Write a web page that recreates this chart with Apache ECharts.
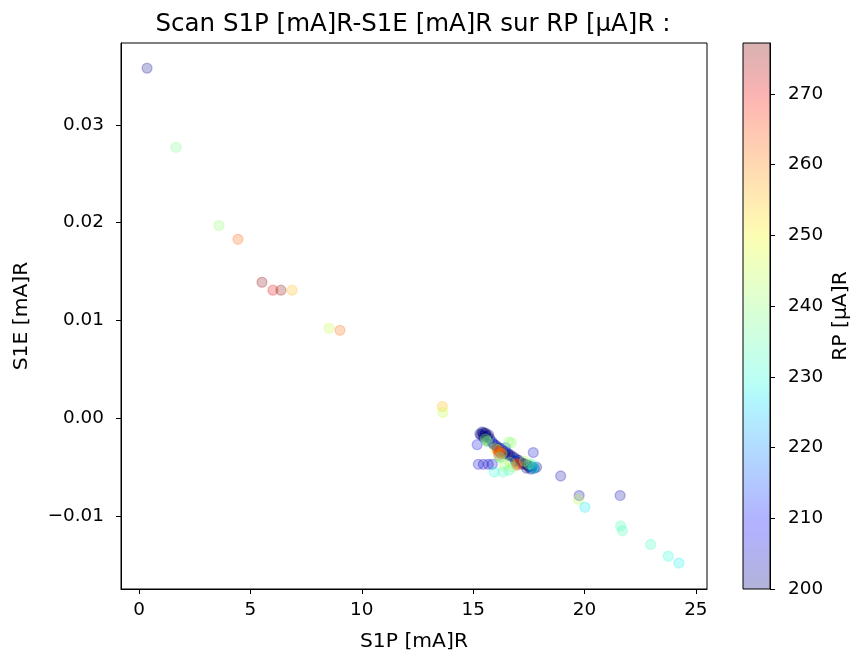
<!DOCTYPE html>
<html>
<head>
<meta charset="utf-8">
<script src="https://cdn.jsdelivr.net/npm/echarts@6/dist/echarts.min.js"></script>
<style>
html,body{margin:0;padding:0;background:#fff;}
#chart{width:852px;height:655px;}
</style>
</head>
<body>
<div id="chart"></div>
<script>
// ---- data ----
var S1P = [
  // navy cluster points
  15.35,15.45,15.55,15.65,15.50,15.75,15.40,15.60,15.30,15.70,15.62,15.85,15.95,16.05,16.15,16.25,16.35,16.45,16.55,16.65,16.75,16.85,16.95,17.05,17.15,17.25,17.35,17.45,17.55,17.65,17.75,17.85,17.40,17.60,16.40,16.90,15.45,15.55,16.10,16.60,17.20,17.50,
  // other cluster points
  15.18,15.23,15.46,15.68,15.86,16.45,16.90,15.90,
  15.55,15.60,15.65,16.60,16.72,16.10,
  16.00,16.30,16.20,
  16.10,16.15,16.20,16.25,16.95,17.00,16.15,16.98,
  17.72,17.70,17.60,16.20,
  15.95,16.35,16.60,
  16.65,16.40,17.30,17.50,16.80,
  17.70,
  // isolated points
  0.36,1.66,3.59,4.44,5.52,6.01,6.37,6.87,8.53,9.02,13.62,13.64,
  18.93,19.76,19.73,20.02,21.60,21.62,21.70,22.97,23.76,24.24
];
var S1E = [
  -0.0017,-0.0015,-0.0016,-0.0018,-0.0020,-0.0021,-0.0014,-0.0019,-0.0016,-0.0017,-0.0023,-0.0024,-0.0027,-0.0028,-0.0030,-0.0031,-0.0033,-0.0034,-0.0036,-0.0037,-0.0039,-0.0040,-0.0042,-0.0043,-0.0045,-0.0046,-0.0047,-0.0048,-0.0049,-0.0050,-0.0051,-0.0050,-0.0051,-0.0052,-0.0036,-0.0044,-0.0018,-0.0015,-0.0031,-0.0038,-0.0047,-0.0050,
  -0.0027,-0.0047,-0.0047,-0.0047,-0.0047,-0.0030,-0.0043,-0.0026,
  -0.0021,-0.0023,-0.0024,-0.0024,-0.0025,-0.0032,
  -0.0031,-0.0036,-0.0040,
  -0.0033,-0.0035,-0.0034,-0.0036,-0.0047,-0.0046,-0.0038,-0.0048,
  -0.0050,-0.0051,-0.0047,-0.0040,
  -0.0055,-0.0055,-0.0053,
  -0.0045,-0.0048,-0.0044,-0.0047,-0.0050,
  -0.0035,
  0.0358,0.0277,0.0197,0.0183,0.0139,0.0131,0.0131,0.0131,0.0092,0.0090,0.0012,0.0006,
  -0.0059,-0.0079,-0.0083,-0.0091,-0.0079,-0.0110,-0.0115,-0.0129,-0.0141,-0.0148
];
var RP = [
  200,200,200,200,200,200,200,200,200,200,200,200,200,200,200,200,200,200,200,200,200,200,200,200,200,200,200,200,200,200,200,200,200,200,200,200,200,200,200,200,200,200,
  207,205,205,205,205,215,215,212,
  240,238,240,240,240,240,
  250,250,248,
  265,264,266,262,265,266,262,264,
  228,226,228,228,
  230,233,233,
  242,242,242,242,240,
  205,
  201,238,240,263,277,271,276,255,245,262,255,245,
  203,203,244,227,203,233,233,232,230,228
];
var xTicks = [0, 5, 10, 15, 20, 25];
var yTicks = [-0.01, 0.00, 0.01, 0.02, 0.03];
var cTicks = [200, 210, 220, 230, 240, 250, 260, 270];
var cMin = 200, cMax = 277.2;

// ---- jet colormap ----
function interp(segs, t) {
  for (var i = 0; i < segs.length - 1; i++) {
    var a = segs[i], b = segs[i + 1];
    if (t >= a[0] && t <= b[0]) {
      return a[1] + (b[1] - a[1]) * (t - a[0]) / (b[0] - a[0]);
    }
  }
  return segs[segs.length - 1][1];
}
var JR = [[0,0],[0.35,0],[0.66,1],[0.89,1],[1,0.5]];
var JG = [[0,0],[0.125,0],[0.375,1],[0.64,1],[0.91,0],[1,0]];
var JB = [[0,0.5],[0.11,1],[0.34,1],[0.65,0],[1,0]];
function jet(t, a) {
  t = Math.max(0, Math.min(1, t));
  var r = Math.round(255 * interp(JR, t));
  var g = Math.round(255 * interp(JG, t));
  var b = Math.round(255 * interp(JB, t));
  return 'rgba(' + r + ',' + g + ',' + b + ',' + a + ')';
}
function colorOf(v) { return jet((v - cMin) / (cMax - cMin), 0.3); }

var pts = S1P.map(function (x, i) {
  var c = colorOf(RP[i]);
  return { value: [x, S1E[i], RP[i]], itemStyle: { color: c, borderColor: c, borderWidth: 1.3 } };
});

var stops = [];
for (var k = 0; k <= 40; k++) {
  stops.push({ offset: k / 40, color: jet(k / 40, 0.3) });
}

var FONT = 'DejaVu Sans';
var TICK = 18.4, LAB = 20.3;
var chart = echarts.init(document.getElementById('chart'), null, { renderer: 'canvas' });
chart.setOption({
  backgroundColor: '#fff',
  animation: false,
  title: {
    text: 'Scan S1P [mA]R-S1E [mA]R sur RP [µA]R :',
    left: 408, top: 7, textAlign: 'center',
    textStyle: { fontFamily: FONT, fontSize: 24.5, fontWeight: 'normal', color: '#000' }
  },
  grid: [
    { left: 121, right: 145, top: 43, bottom: 66, containLabel: false, outerBoundsMode: 'none',
      show: true, borderColor: '#000', borderWidth: 1, backgroundColor: 'transparent' },
    { left: 743, width: 27, top: 43, bottom: 66, containLabel: false, outerBoundsMode: 'none',
      show: true, borderColor: '#000', borderWidth: 1,
      backgroundColor: new echarts.graphic.LinearGradient(0, 1, 0, 0, stops) }
  ],
  xAxis: [
    {
      type: 'value', gridIndex: 0, min: -0.81, max: 25.5,
      name: 'S1P [mA]R', nameLocation: 'middle', nameGap: 43,
      nameTextStyle: { fontFamily: FONT, fontSize: LAB, color: '#000' },
      axisLine: { show: true, onZero: false, lineStyle: { color: '#000', width: 1 } },
      axisTick: { show: true, inside: false, length: 5, customValues: xTicks, lineStyle: { color: '#000' } },
      axisLabel: { customValues: xTicks, margin: 12, fontFamily: FONT, fontSize: TICK, color: '#000',
        formatter: function (v) { return String(v); } },
      splitLine: { show: false }
    },
    { type: 'value', gridIndex: 1, min: 0, max: 1, show: false }
  ],
  yAxis: [
    {
      type: 'value', gridIndex: 0, min: -0.01745, max: 0.03837,
      name: 'S1E [mA]R', nameLocation: 'middle', nameGap: 89, nameRotate: 90,
      nameTextStyle: { fontFamily: FONT, fontSize: LAB, color: '#000' },
      axisLine: { show: true, onZero: false, lineStyle: { color: '#000', width: 1 } },
      axisTick: { show: true, inside: false, length: 5, customValues: yTicks, lineStyle: { color: '#000' } },
      axisLabel: { customValues: yTicks, margin: 17, padding: [3, 0, 0, 0], fontFamily: FONT, fontSize: TICK, color: '#000',
        formatter: function (v) {
          var s = Math.abs(v).toFixed(2);
          return (v < -1e-9 ? '\u2212' : '') + s;
        } },
      splitLine: { show: false }
    },
    {
      type: 'value', gridIndex: 1, min: cMin, max: cMax, position: 'right',
      name: 'RP [µA]R', nameLocation: 'middle', nameGap: 61, nameRotate: 90,
      nameTextStyle: { fontFamily: FONT, fontSize: LAB, color: '#000' },
      axisLine: { show: true, onZero: false, lineStyle: { color: '#000', width: 1 } },
      axisTick: { show: true, inside: false, length: 5, customValues: cTicks, lineStyle: { color: '#000' } },
      axisLabel: { customValues: cTicks, margin: 18, padding: [3, 0, 0, 0], fontFamily: FONT, fontSize: TICK, color: '#000' },
      splitLine: { show: false }
    }
  ],
  series: [
    {
      type: 'scatter', xAxisIndex: 0, yAxisIndex: 0,
      symbol: 'circle', symbolSize: 10,
      data: pts,
      emphasis: { disabled: true }
    }
  ]
});
</script>
</body>
</html>
